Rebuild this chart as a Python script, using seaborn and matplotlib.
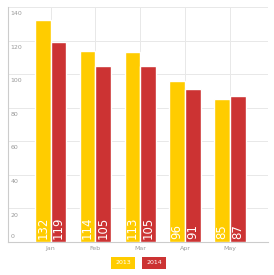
import pandas as pd
import matplotlib
matplotlib.use('Agg')
import matplotlib.pyplot as plt
import seaborn as sns

# chart data
months = ['Jan', 'Feb', 'Mar', 'Apr', 'May']
sales_2013 = [132, 114, 113, 96, 85]
sales_2014 = [119, 105, 105, 91, 87]
years = ['2013', '2014']
y_ticks = [0, 20, 40, 60, 80, 100, 120, 140]

colors = {'2013': '#FFCC00', '2014': '#CC3333'}

df = pd.DataFrame({
    'Month': months * 2,
    'Value': sales_2013 + sales_2014,
    'Year': [years[0]] * len(months) + [years[1]] * len(months),
})

sns.set_style('white')
plt.rcParams['font.family'] = ['DejaVu Sans']

fig = plt.figure(figsize=(2.74, 2.75), dpi=100)
ax = fig.add_axes([8 / 274, 33 / 275, 260 / 274, 235 / 275])

sns.barplot(data=df, x='Month', y='Value', hue='Year', palette=colors,
            width=0.7, saturation=1, ax=ax, legend=False, zorder=3)

# value labels, rotated, at the bottom of each bar
for cont in ax.containers:
    for bar in cont:
        h = bar.get_height()
        ax.text(bar.get_x() + bar.get_width() / 2, 1.5, f'{h:.0f}',
                rotation=90, ha='center', va='bottom', color='white',
                fontsize=8.5, zorder=4)

ax.set_xlim(-0.95, 4.85)
ax.set_ylim(0, 140)
ax.set_yticks(y_ticks)
ax.set_yticklabels([])
ax.set_xticks(range(len(months)))
ax.set_xticklabels(months, fontsize=4.5, color='#999999')
ax.tick_params(axis='x', length=0, pad=3)
ax.tick_params(axis='y', length=0)
ax.set_xlabel('')
ax.set_ylabel('')

# y labels drawn inside the axis, just under each grid line (0 sits above)
for t in y_ticks:
    if t == 0:
        ax.text(-0.9, 1.5, str(t), fontsize=4.5, color='#999999',
                ha='left', va='bottom')
    else:
        ax.text(-0.9, t - 2.5, str(t), fontsize=4.5, color='#999999',
                ha='left', va='top')

ax.grid(True, color='#e8e8e8', linewidth=0.7, zorder=0)
for s in ['top', 'right']:
    ax.spines[s].set_visible(False)
for s in ['left', 'bottom']:
    ax.spines[s].set_color('#cccccc')
    ax.spines[s].set_linewidth(0.8)

# legend as coloured boxes with the year inside
fig.text(123 / 274, 12 / 275, years[0], fontsize=4.5, color='white',
         ha='center', va='center',
         bbox=dict(boxstyle='square,pad=0.6', fc=colors['2013'], ec='none'))
fig.text(154 / 274, 12 / 275, years[1], fontsize=4.5, color='white',
         ha='center', va='center',
         bbox=dict(boxstyle='square,pad=0.6', fc=colors['2014'], ec='none'))

fig.savefig('out.png', dpi=100)
